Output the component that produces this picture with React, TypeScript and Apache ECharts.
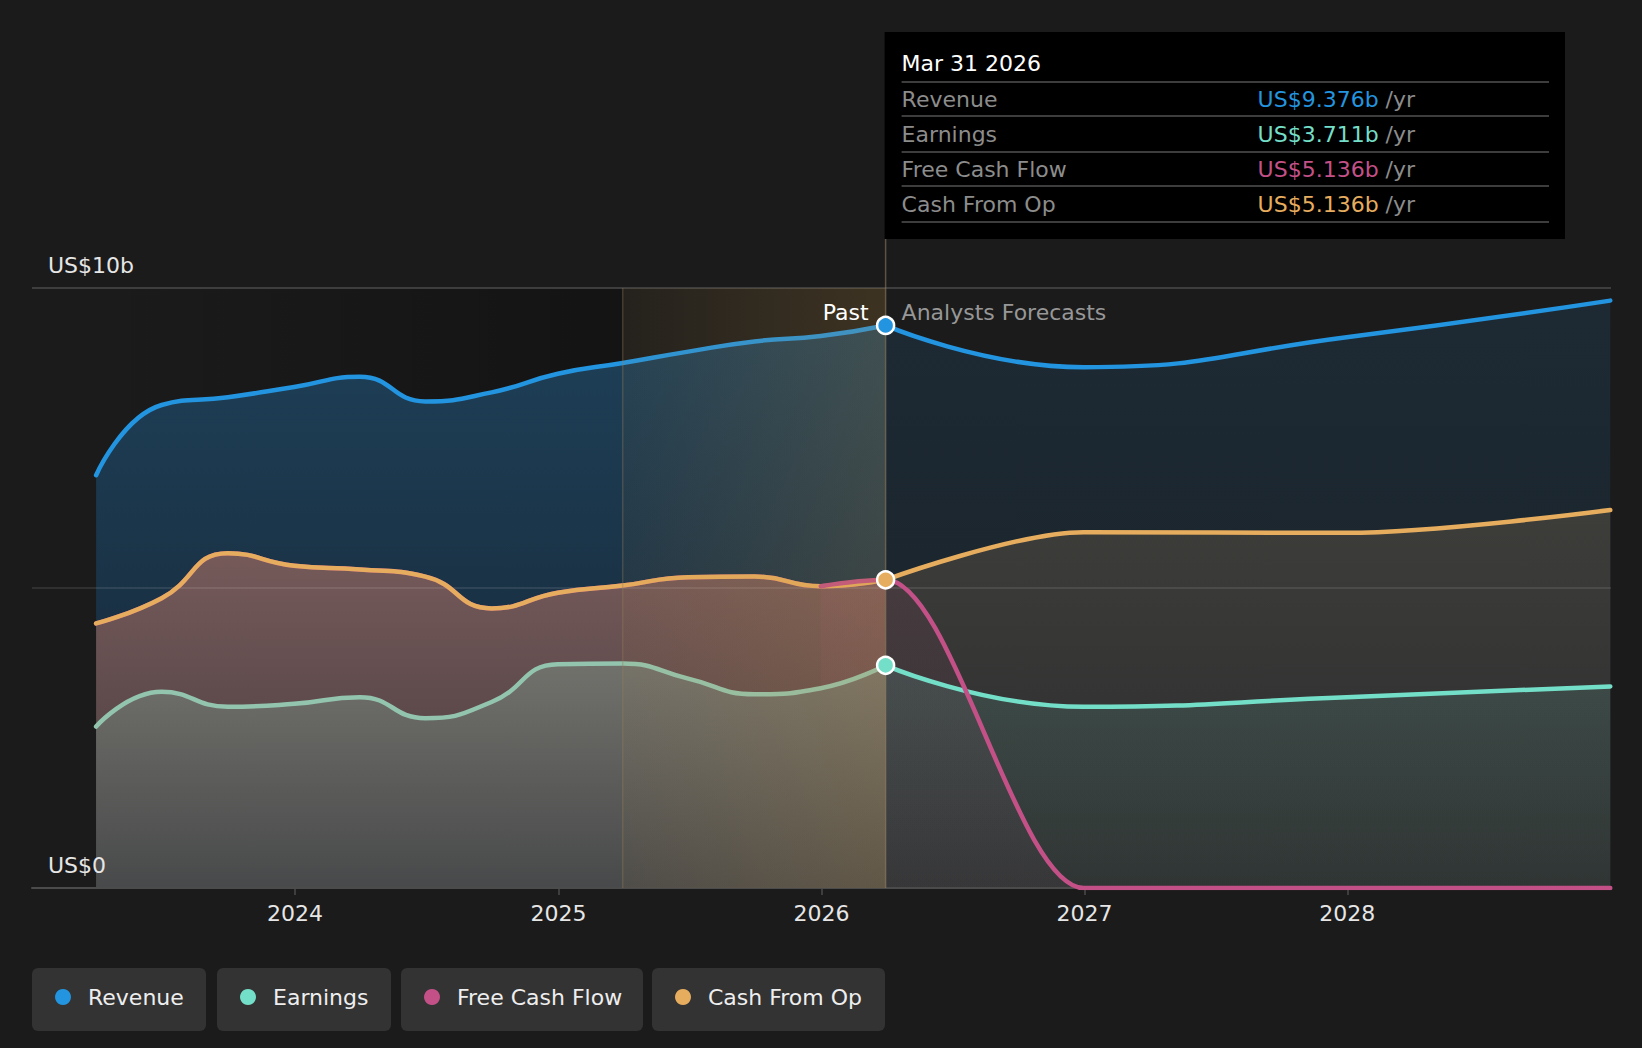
import React, { useEffect, useRef } from 'react';
import * as echarts from 'echarts';

const FONT = '"DejaVu Sans", Verdana, sans-serif';
const FS = 22;

// Reported quarters (trailing twelve months) and analyst forecast years
const pastDates = [
  '2023-03-31', '2023-06-30', '2023-09-30', '2023-12-31',
  '2024-03-31', '2024-06-30', '2024-09-30', '2024-12-31',
  '2025-03-31', '2025-06-30', '2025-09-30', '2025-12-31',
  '2026-03-31',
];
const forecastDates = ['2026-03-31', '2026-12-31', '2027-12-31', '2028-12-31'];

// Values in US$ billions per year
const revenuePast = [6.88, 8.05, 8.18, 8.35, 8.52, 8.11, 8.26, 8.57, 8.75, 8.94, 9.11, 9.2, 9.376];
const revenueForecast = [9.376, 8.68, 9.18, 9.79];
const earningsPast = [2.69, 3.27, 3.02, 3.07, 3.18, 2.83, 3.1, 3.73, 3.74, 3.49, 3.23, 3.33, 3.711];
const earningsForecast = [3.711, 3.02, 3.18, 3.36];
const freeCashFlowPast = [4.41, 4.83, 5.58, 5.37, 5.31, 5.19, 4.66, 4.92, 5.04, 5.18, 5.19, 5.03, 5.136];
const freeCashFlowForecast = [5.136, 0, 0, 0];
const cashFromOpPast = [4.41, 4.83, 5.58, 5.37, 5.31, 5.19, 4.66, 4.92, 5.04, 5.18, 5.19, 5.03, 5.136];
const cashFromOpForecast = [5.136, 5.93, 5.92, 6.3];

// Axis ticks
const yearTicks = [2024, 2025, 2026, 2027, 2028];
const yTickValues = [0, 10];
const axisStart = '2023-01-01';
const axisEnd = '2029-01-01';

// Highlighted last year of reported data, and the present date
const highlightStart = '2025-03-31';
const nowDate = '2026-03-31';

const legendNames = ['Revenue', 'Earnings', 'Free Cash Flow', 'Cash From Op'];
const COLORS: Record<string, string> = {
  Revenue: '#2394df',
  Earnings: '#74dfc8',
  'Free Cash Flow': '#c35187',
  'Cash From Op': '#e7ad5f',
};
const MONTHS = ['Jan', 'Feb', 'Mar', 'Apr', 'May', 'Jun', 'Jul', 'Aug', 'Sep', 'Oct', 'Nov', 'Dec'];

function ts(s: string): number {
  const [y, m, d] = s.split('-').map(Number);
  return new Date(y, m - 1, d).getTime();
}

function pairs(dates: string[], values: number[]) {
  return dates.map((d, i) => [ts(d), values[i]]);
}

function vGrad(stops: [number, string][]) {
  return new echarts.graphic.LinearGradient(0, 0, 0, 1, stops.map(([offset, color]) => ({ offset, color })));
}

function hGrad(stops: [number, string][]) {
  return new echarts.graphic.LinearGradient(0, 0, 1, 0, stops.map(([offset, color]) => ({ offset, color })));
}

// flat-tangent smoothing (monotone in x) uses a third of each segment,
// which gives an ease-in/ease-out between points
function smoothFor(monotone?: string) {
  return monotone ? 1 / 3 : 0.5;
}

function areaSeries(id: string, data: number[][], fill: any, monotone?: string) {
  return {
    type: 'line',
    id,
    data,
    smooth: smoothFor(monotone),
    smoothMonotone: monotone,
    symbol: 'none',
    showSymbol: false,
    silent: true,
    z: 1,
    lineStyle: { width: 0, opacity: 0 },
    areaStyle: { color: fill, opacity: 1 },
  };
}

function lineSeries(id: string, data: number[][], color: string, monotone?: string) {
  return {
    type: 'line',
    id,
    data,
    smooth: smoothFor(monotone),
    smoothMonotone: monotone,
    symbol: 'none',
    showSymbol: false,
    silent: true,
    z: 3,
    lineStyle: { color, width: 4.5, cap: 'round', join: 'round' },
  };
}

function fmtDate(s: string) {
  const [y, m, d] = s.split('-').map(Number);
  return `${MONTHS[m - 1]} ${d} ${y}`;
}

function buildOption() {
  const last = pastDates.length - 1;
  const revPast = pairs(pastDates, revenuePast);
  const revFc = pairs(forecastDates, revenueForecast);
  const earnPast = pairs(pastDates, earningsPast);
  const earnFc = pairs(forecastDates, earningsForecast);
  const fcfPast = pairs(pastDates, freeCashFlowPast);
  // the free cash flow forecast curve leaves the present flat, so it is
  // smoothed together with the quarter before it
  const fcfFc = pairs(
    [pastDates[last - 1], ...forecastDates],
    [freeCashFlowPast[last - 1], ...freeCashFlowForecast],
  );
  const cfoPast = pairs(pastDates, cashFromOpPast);
  const cfoFc = pairs(forecastDates, cashFromOpForecast);
  const tNow = ts(nowDate);
  const yearValues = yearTicks.map((y) => new Date(y, 0, 1).getTime());

  return {
    animation: false,
    backgroundColor: '#1b1b1b',
    tooltip: { show: false },
    grid: { left: 32, right: 31, top: 288, bottom: 160, containLabel: false, outerBoundsMode: 'none' },
    xAxis: {
      type: 'value',
      min: ts(axisStart),
      max: ts(axisEnd),
      z: 2,
      splitLine: { show: false },
      axisLine: { lineStyle: { color: '#4b4b4b', width: 2 } },
      axisTick: {
        show: true,
        length: 7,
        customValues: yearValues,
        lineStyle: { color: '#4b4b4b', width: 1.5 },
      },
      axisLabel: {
        customValues: yearValues,
        formatter: (v: number) => String(new Date(v).getFullYear()),
        color: '#e6e6e6',
        fontSize: FS,
        fontFamily: FONT,
        margin: 14,
      },
    },
    yAxis: {
      type: 'value',
      min: 0,
      max: 10,
      interval: 5,
      z: 2,
      axisLine: { show: false },
      axisTick: { show: false },
      splitLine: {
        lineStyle: { color: ['#4b4b4b', 'rgba(255,255,255,0.13)', '#4b4b4b'], width: 1.5 },
      },
      axisLabel: {
        inside: true,
        customValues: yTickValues,
        margin: 16,
        verticalAlign: 'bottom',
        padding: [0, 0, 12, 0],
        color: '#e6e6e6',
        fontSize: FS,
        fontFamily: FONT,
        formatter: (v: number) => (v === 0 ? 'US$0' : `US$${v}b`),
      },
    },
    series: [
      // filled areas
      areaSeries('revenue-past-area', revPast, vGrad([[0, '#1e4058'], [1, '#162332']])),
      areaSeries('revenue-forecast-area', revFc, vGrad([[0, '#1d2a34'], [1, '#192128']])),
      areaSeries('cfo-past-area', cfoPast, vGrad([[0, '#765a5a'], [0.45, '#5f4b4c'], [1, '#3f3636']])),
      areaSeries('cfo-forecast-area', cfoFc, vGrad([[0, '#3d3d3a'], [0.5, '#343434'], [1, '#2c2c2c']]), 'x'),
      areaSeries('fcf-forecast-area', fcfFc, vGrad([[0, 'rgba(195,81,135,0.09)'], [1, 'rgba(195,81,135,0.05)']]), 'x'),
      areaSeries('earnings-past-area', earnPast, vGrad([[0, '#71716c'], [1, '#48494a']])),
      areaSeries('earnings-forecast-area', earnFc, vGrad([[0, 'rgba(116,223,200,0.13)'], [1, 'rgba(116,223,200,0.05)']])),
      // lines
      lineSeries('revenue-past', revPast, COLORS.Revenue),
      lineSeries('revenue-forecast', revFc, COLORS.Revenue),
      lineSeries('earnings-past', earnPast, '#93c5ae'),
      lineSeries('earnings-forecast', earnFc, COLORS.Earnings),
      lineSeries('fcf-past', fcfPast, COLORS['Free Cash Flow']),
      lineSeries('cfo-past', cfoPast, COLORS['Cash From Op']),
      lineSeries('fcf-forecast', fcfFc, COLORS['Free Cash Flow'], 'x'),
      lineSeries('cfo-forecast', cfoFc, COLORS['Cash From Op'], 'x'),
      // present-day markers
      {
        type: 'scatter',
        id: 'now-points',
        z: 20,
        silent: true,
        symbolSize: 17,
        data: [
          { value: [tNow, revenuePast[last]], itemStyle: { color: COLORS.Revenue } },
          { value: [tNow, cashFromOpPast[last]], itemStyle: { color: COLORS['Cash From Op'] } },
          { value: [tNow, earningsPast[last]], itemStyle: { color: COLORS.Earnings } },
        ],
        itemStyle: { borderColor: '#ffffff', borderWidth: 2.5, opacity: 1 },
      },
    ],
  };
}

function buildGraphics(chart: echarts.ECharts) {
  const xOf = (d: string) => chart.convertToPixel({ xAxisIndex: 0 }, ts(d)) as unknown as number;
  const yOf = (v: number) => chart.convertToPixel({ yAxisIndex: 0 }, v) as unknown as number;
  const xStart = xOf(pastDates[0]);
  const xHi = xOf(highlightStart);
  const xNow = xOf(nowDate);
  const yTop = yOf(10);
  const yBot = yOf(0);
  const last = pastDates.length - 1;

  const boxLeft = xNow - 1;
  const boxTop = 32;
  const boxRight = 1565;
  const boxBottom = 239;

  const elements: any[] = [
    {
      type: 'rect',
      silent: true,
      z: 0.5,
      shape: { x: xStart, y: yTop, width: xHi - xStart, height: yBot - yTop },
      style: { fill: hGrad([[0, 'rgba(0,0,0,0)'], [1, 'rgba(0,0,0,0.28)']]) },
    },
    {
      type: 'rect',
      silent: true,
      z: 10,
      shape: { x: xHi, y: yTop, width: xNow - xHi, height: yBot - yTop },
      style: { fill: hGrad([[0, 'rgba(190,140,60,0.06)'], [1, 'rgba(190,140,60,0.21)']]) },
    },
    {
      type: 'line',
      silent: true,
      z: 10,
      shape: { x1: xHi, y1: yTop, x2: xHi, y2: yBot },
      style: { stroke: 'rgba(150,125,90,0.35)', lineWidth: 1.5 },
    },
    {
      type: 'line',
      silent: true,
      z: 10,
      shape: { x1: xNow, y1: boxBottom, x2: xNow, y2: yBot },
      style: { stroke: 'rgba(150,130,100,0.55)', lineWidth: 1.5 },
    },
    {
      type: 'text',
      silent: true,
      z: 11,
      style: {
        x: xNow - 17, y: 312, text: 'Past', fill: '#ffffff',
        fontSize: FS, fontFamily: FONT, align: 'right', verticalAlign: 'middle',
      },
    },
    {
      type: 'text',
      silent: true,
      z: 11,
      style: {
        x: xNow + 16, y: 312, text: 'Analysts Forecasts', fill: '#979797',
        fontSize: FS, fontFamily: FONT, align: 'left', verticalAlign: 'middle',
      },
    },
    // tooltip panel for the present date
    {
      type: 'rect',
      silent: true,
      z: 30,
      shape: { x: boxLeft, y: boxTop, width: boxRight - boxLeft, height: boxBottom - boxTop },
      style: { fill: '#000000' },
    },
    {
      type: 'text',
      silent: true,
      z: 31,
      style: {
        x: boxLeft + 17, y: 63, text: fmtDate(nowDate), fill: '#ffffff',
        fontSize: FS, fontFamily: FONT, verticalAlign: 'middle',
      },
    },
  ];

  const rows: [string, number][] = [
    ['Revenue', revenuePast[last]],
    ['Earnings', earningsPast[last]],
    ['Free Cash Flow', freeCashFlowPast[last]],
    ['Cash From Op', cashFromOpPast[last]],
  ];
  const sepYs = [82, 116, 152, 186, 222];
  sepYs.forEach((y) => {
    elements.push({
      type: 'line',
      silent: true,
      z: 31,
      shape: { x1: boxLeft + 17, y1: y, x2: boxRight - 16, y2: y },
      style: { stroke: '#3d3d3d', lineWidth: 2 },
    });
  });
  rows.forEach(([name, v], i) => {
    const cy = (sepYs[i] + sepYs[i + 1]) / 2;
    elements.push({
      type: 'text',
      silent: true,
      z: 31,
      style: {
        x: boxLeft + 17, y: cy, text: name, fill: '#8c8c8c',
        fontSize: FS, fontFamily: FONT, verticalAlign: 'middle',
      },
    });
    elements.push({
      type: 'text',
      silent: true,
      z: 31,
      style: {
        x: boxLeft + 373, y: cy,
        text: `{v|US$${v.toFixed(3)}b} {u|/yr}`,
        fontSize: FS, fontFamily: FONT, verticalAlign: 'middle', fill: '#8c8c8c',
        rich: {
          v: { fill: COLORS[name], fontSize: FS, fontFamily: FONT },
          u: { fill: '#8c8c8c', fontSize: FS, fontFamily: FONT },
        },
      },
    });
  });

  // legend chips
  const chipX = [32, 217, 401, 652];
  const chipW = [174, 174, 242, 233];
  legendNames.forEach((name, i) => {
    elements.push({
      type: 'rect',
      silent: true,
      z: 30,
      shape: { x: chipX[i], y: 968, width: chipW[i], height: 63, r: 6 },
      style: { fill: '#333333' },
    });
    elements.push({
      type: 'circle',
      silent: true,
      z: 31,
      shape: { cx: chipX[i] + 31, cy: 997, r: 8 },
      style: { fill: COLORS[name] },
    });
    elements.push({
      type: 'text',
      silent: true,
      z: 31,
      style: {
        x: chipX[i] + 56, y: 997, text: name, fill: '#eeeeee',
        fontSize: FS, fontFamily: FONT, verticalAlign: 'middle',
      },
    });
  });

  return elements;
}

export default function App() {
  const ref = useRef<HTMLDivElement>(null);
  useEffect(() => {
    document.body.style.margin = '0';
    const el = ref.current!;
    const chart = echarts.init(el, null, { renderer: 'svg' });
    chart.setOption(buildOption() as any);
    chart.setOption({ graphic: { elements: buildGraphics(chart) } } as any);
    return () => chart.dispose();
  }, []);
  return (
    <div
      ref={ref}
      style={{ position: 'fixed', left: 0, top: 0, width: 1642, height: 1048, background: '#1b1b1b' }}
    />
  );
}
